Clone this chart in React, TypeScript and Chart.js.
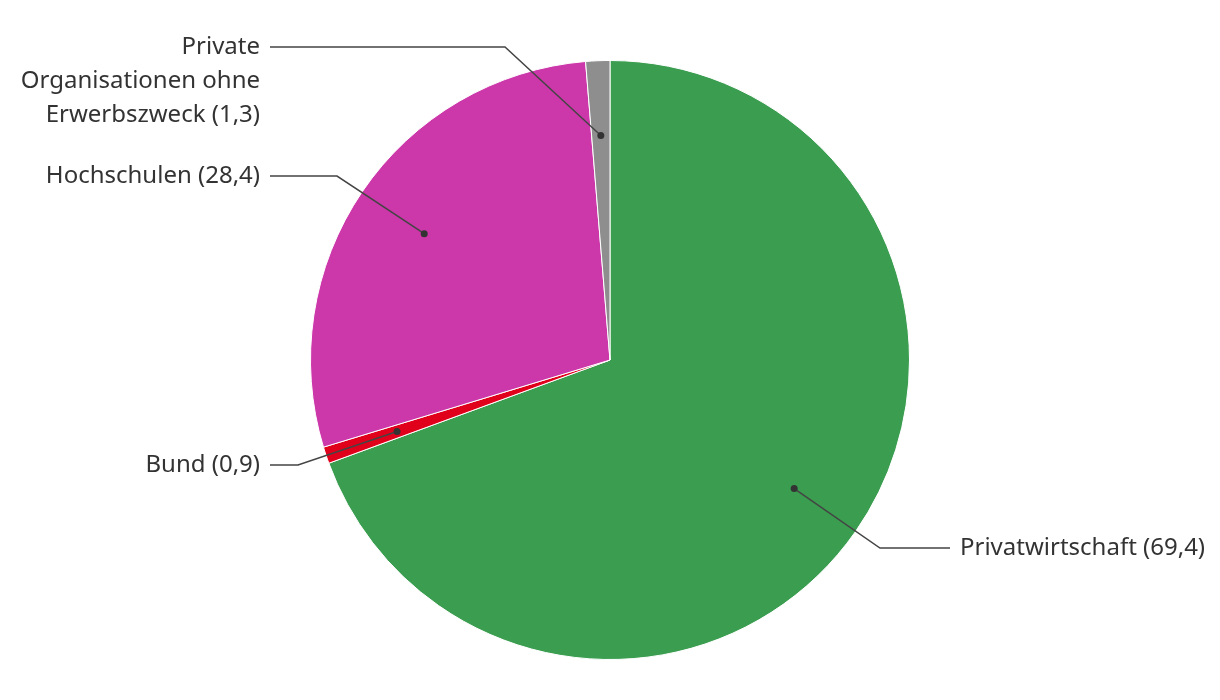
import React, { useEffect, useRef } from "react";
import { Chart, registerables } from "chart.js";

Chart.register(...registerables);

const categories = [
  "Privatwirtschaft (69,4)",
  "Bund (0,9)",
  "Hochschulen (28,4)",
  "Private Organisationen ohne Erwerbszweck (1,3)",
];
const labelLines = [
  ["Privatwirtschaft (69,4)"],
  ["Bund (0,9)"],
  ["Hochschulen (28,4)"],
  ["Private", "Organisationen ohne", "Erwerbszweck (1,3)"],
];
const values = [69.4, 0.9, 28.4, 1.3];
const colors = ["#3a9d4f", "#e0001b", "#cc37a9", "#8e8e8e"];

// label layout: side, label y (first line), elbow x, text x
const labelLayout = [
  { side: "right", y: 548, elbowX: 880, endX: 950, textX: 960 },
  { side: "left", y: 465, elbowX: 298, endX: 270, textX: 260 },
  { side: "left", y: 176, elbowX: 337, endX: 270, textX: 260 },
  { side: "left", y: 47, elbowX: 505, endX: 270, textX: 260 },
];

const leaderPlugin = {
  id: "leaders",
  afterDatasetsDraw(chart: any) {
    const ctx = chart.ctx;
    const meta = chart.getDatasetMeta(0);
    ctx.save();
    meta.data.forEach((arc: any, i: number) => {
      const p = arc.getProps(["x", "y", "startAngle", "endAngle", "outerRadius"], true);
      const mid = (p.startAngle + p.endAngle) / 2;
      const r = p.outerRadius * 0.75;
      const dx = p.x + Math.cos(mid) * r;
      const dy = p.y + Math.sin(mid) * r;
      const L = labelLayout[i];
      ctx.strokeStyle = "#444444";
      ctx.lineWidth = 1.5;
      ctx.beginPath();
      ctx.moveTo(dx, dy);
      ctx.lineTo(L.elbowX, L.y);
      ctx.lineTo(L.endX, L.y);
      ctx.stroke();
      ctx.fillStyle = "#333333";
      ctx.beginPath();
      ctx.arc(dx, dy, 3.5, 0, Math.PI * 2);
      ctx.fill();
      ctx.font = '24px "Noto Sans"';
      ctx.fillStyle = "#333333";
      ctx.textBaseline = "middle";
      ctx.textAlign = L.side === "right" ? "left" : "right";
      labelLines[i].forEach((line, j) => {
        ctx.fillText(line, L.textX, L.y + j * 34);
      });
    });
    ctx.restore();
  },
};

export default function App() {
  const ref = useRef<HTMLCanvasElement>(null);
  useEffect(() => {
    if (!ref.current) return;
    const chart = new Chart(ref.current, {
      type: "pie",
      data: {
        labels: categories,
        datasets: [
          {
            data: values,
            backgroundColor: colors,
            borderColor: "#ffffff",
            borderWidth: 1,
          },
        ],
      },
      options: {
        animation: false,
        responsive: false,
        layout: { padding: { top: 60, bottom: 40, left: 300, right: 300 } },
        plugins: {
          legend: { display: false },
          tooltip: { enabled: false },
        },
      },
      plugins: [leaderPlugin],
    });
    return () => chart.destroy();
  }, []);
  return (
    <div style={{ position: "absolute", left: 0, top: 0, width: 1220, height: 700, background: "#fff" }}>
      <canvas ref={ref} width={1220} height={700} style={{ width: 1220, height: 700 }} />
    </div>
  );
}
